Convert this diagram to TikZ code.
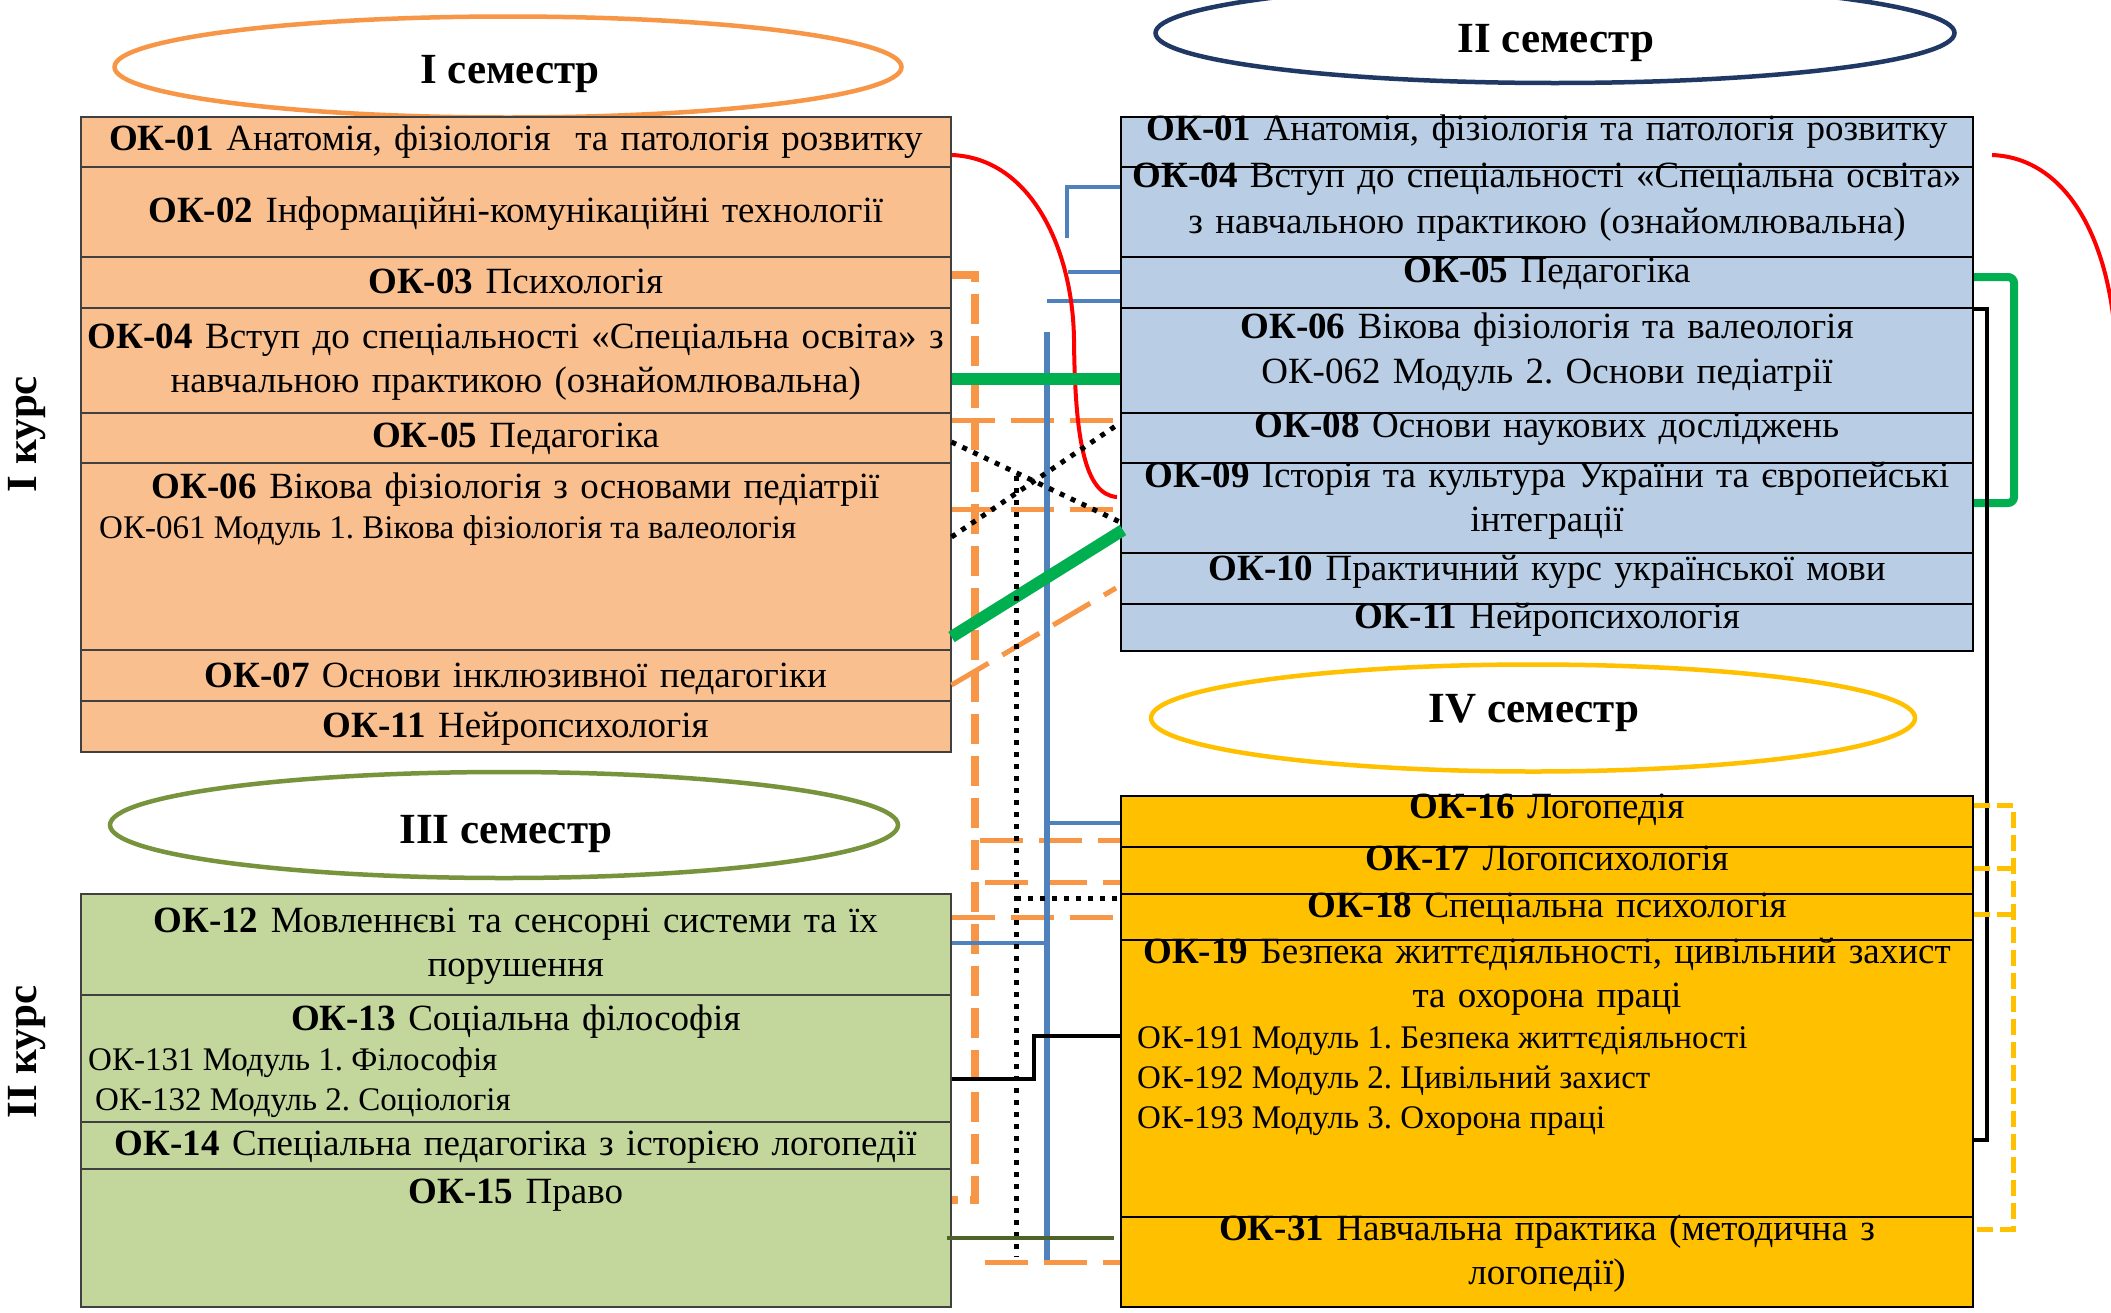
\documentclass[tikz,border=0pt]{standalone}
\usepackage{fontspec}
\setmainfont{Liberation Serif}
\usetikzlibrary{shapes.geometric,calc}
\definecolor{peach}{HTML}{FABF8F}
\definecolor{lblue}{HTML}{B9CDE5}
\definecolor{lgreen}{HTML}{C3D69B}
\definecolor{gold}{HTML}{FFC000}
\definecolor{orng}{HTML}{F79646}
\definecolor{bblue}{HTML}{4F81BD}
\definecolor{ggreen}{HTML}{00B050}
\definecolor{olive}{HTML}{77933C}
\definecolor{navy}{HTML}{1F3864}
\definecolor{dgreen}{HTML}{4F6228}
\newcommand\mainsz{\fontsize{37}{44}\selectfont}
\newcommand\subsz{\fontsize{33}{40}\selectfont}
\newcommand\titlesz{\fontsize{43}{48}\selectfont}
\frenchspacing
\begin{document}
\frenchspacing
\begin{tikzpicture}[x=1pt,y=-1pt,
  cellbox/.style={anchor=north west, inner sep=0pt, line width=1.5pt},
  lbox/.style={cellbox, fill=peach, draw=black!75, minimum width=870pt},
  gbox/.style={cellbox, fill=lgreen, draw=black!75, minimum width=870pt},
  bbox/.style={cellbox, fill=lblue, draw=black, line width=2pt, minimum width=852pt},
  ybox/.style={cellbox, fill=gold, draw=black, line width=2pt, minimum width=852pt},
  txt/.style={anchor=base, inner sep=0pt, align=center, text width=1000pt, font=\mainsz},
  subtxt/.style={anchor=base west, inner sep=0pt, font=\subsz},
  semell/.style={ellipse, line width=4.5pt, inner sep=0pt},
  semtxt/.style={anchor=base, inner sep=0pt, font=\titlesz\bfseries},
  kurs/.style={rotate=90, inner sep=0pt, font=\titlesz\bfseries},
  redl/.style={draw=red, line width=4pt},
  grn/.style={draw=ggreen, line width=12pt},
  grnb/.style={draw=ggreen, line width=8pt, rounded corners=6pt},
  blu/.style={draw=bblue, line width=4pt},
  bluthick/.style={draw=bblue, line width=6pt},
  odash/.style={draw=orng, line width=5pt, dash pattern=on 43pt off 16pt},
  odashv/.style={draw=orng, line width=8pt, dash pattern=on 30pt off 12pt},
  dotline/.style={draw=black, line width=5pt, dash pattern=on 5pt off 7pt},
  blk/.style={draw=black, line width=4pt},
  ydash/.style={draw=gold, line width=5pt, dash pattern=on 16pt off 7pt},
  dgr/.style={draw=dgreen, line width=4pt}
]
\useasboundingbox (0,0) rectangle (2111,1312);
\fill[white] (0,0) rectangle (2111,1312);

% ---------- ellipses ----------
\node[semell, draw=orng, minimum width=787pt, minimum height=101pt] (S1) at (508,67) {};
\node[semtxt] (S1t) at (510,83) {I семестр};
\node[semell, draw=navy, minimum width=799pt, minimum height=100pt] (S2) at (1555,33) {};
\node[semtxt] (S2t) at (1556,52) {II семестр};
\node[semell, draw=olive, minimum width=788pt, minimum height=106pt] (S3) at (504,825) {};
\node[semtxt] (S3t) at (506,843) {III семестр};
\node[semell, draw=gold, minimum width=764pt, minimum height=107pt] (S4) at (1533,718) {};
\node[semtxt] (S4t) at (1534,722) {IV семестр};

% ---------- course labels ----------
\node[kurs] (K1) at (27,434) {I курс};
\node[kurs] (K2) at (27,1052) {II курс};

% ---------- left column, I semester ----------
\node[lbox, minimum height=50pt] (L01) at (80,116) {};
\node[lbox, minimum height=90pt] (L02) at (80,166) {};
\node[lbox, minimum height=51pt] (L03) at (80,256) {};
\node[lbox, minimum height=105pt] (L04) at (80,307) {};
\node[lbox, minimum height=50pt] (L05) at (80,412) {};
\node[lbox, minimum height=187pt] (L06) at (80,462) {};
\node[lbox, minimum height=51pt] (L07) at (80,649) {};
\node[lbox, minimum height=51pt] (L11) at (80,700) {};
\node[txt] (L01t) at ($(L01.north)+(0,34)$) {\textbf{ОК-01} Анатомія, фізіологія \ та патологія розвитку};
\node[txt] (L02t) at ($(L02.north)+(0,56)$) {\textbf{ОК-02} Інформаційні-комунікаційні технології};
\node[txt] (L03t) at ($(L03.north)+(0,37)$) {\textbf{ОК-03} Психологія};
\node[txt] (L04t) at ($(L04.north)+(0,41)$) {\textbf{ОК-04} Вступ до спеціальності «Спеціальна освіта» з\\навчальною практикою (ознайомлювальна)};
\node[txt] (L05t) at ($(L05.north)+(0,35)$) {\textbf{ОК-05} Педагогіка};
\node[txt] (L06t) at ($(L06.north)+(0,36)$) {\textbf{ОК-06} Вікова фізіологія з основами педіатрії};
\node[subtxt] (L06s) at ($(L06.north west)+(19,76)$) {ОК-061 Модуль 1. Вікова фізіологія та валеологія};
\node[txt] (L07t) at ($(L07.north)+(0,38)$) {\textbf{ОК-07} Основи інклюзивної педагогіки};
\node[txt] (L11t) at ($(L11.north)+(0,37)$) {\textbf{ОК-11} Нейропсихологія};

% ---------- left column, III semester ----------
\node[gbox, minimum height=101pt] (G12) at (80,893) {};
\node[gbox, minimum height=127pt] (G13) at (80,994) {};
\node[gbox, minimum height=47pt] (G14) at (80,1121) {};
\node[gbox, minimum height=138pt] (G15) at (80,1168) {};
\node[txt] (G12t) at ($(G12.north)+(0,39)$) {\textbf{ОК-12} Мовленнєві та сенсорні системи та їх\\порушення};
\node[txt] (G13t) at ($(G13.north)+(0,36)$) {\textbf{ОК-13} Соціальна філософія};
\node[subtxt] (G13s1) at ($(G13.north west)+(8,76)$) {ОК-131 Модуль 1. Філософія};
\node[subtxt] (G13s2) at ($(G13.north west)+(15,116)$) {ОК-132 Модуль 2. Соціологія};
\node[txt] (G14t) at ($(G14.north)+(0,34)$) {\textbf{ОК-14} Спеціальна педагогіка з історією логопедії};
\node[txt] (G15t) at ($(G15.north)+(0,35)$) {\textbf{ОК-15} Право};

% ---------- right column, II semester ----------
\node[bbox, minimum height=50pt] (B01) at (1120,116) {};
\node[bbox, minimum height=90pt] (B04) at (1120,166) {};
\node[bbox, minimum height=51pt] (B05) at (1120,256) {};
\node[bbox, minimum height=105pt] (B06) at (1120,307) {};
\node[bbox, minimum height=50pt] (B08) at (1120,412) {};
\node[bbox, minimum height=90pt] (B09) at (1120,462) {};
\node[bbox, minimum height=51pt] (B10) at (1120,552) {};
\node[bbox, minimum height=47pt] (B11) at (1120,603) {};
\node[txt] (B01t) at ($(B01.north)+(0,24)$) {\textbf{ОК-01} Анатомія, фізіологія та патологія розвитку};
\node[txt] (B04t) at ($(B04.north)+(0,21)$) {\textbf{ОК-04} Вступ до спеціальності «Спеціальна освіта»\\[2pt]з навчальною практикою (ознайомлювальна)};
\node[txt] (B05t) at ($(B05.north)+(0,26)$) {\textbf{ОК-05} Педагогіка};
\node[txt] (B06t) at ($(B06.north)+(0,31)$) {\textbf{ОК-06} Вікова фізіологія та валеологія\\[1pt]ОК-062 Модуль 2. Основи педіатрії};
\node[txt] (B08t) at ($(B08.north)+(0,25)$) {\textbf{ОК-08} Основи наукових досліджень};
\node[txt] (B09t) at ($(B09.north)+(0,25)$) {\textbf{ОК-09} Історія та культура України та європейські\\інтеграції};
\node[txt] (B10t) at ($(B10.north)+(0,28)$) {\textbf{ОК-10} Практичний курс української мови};
\node[txt] (B11t) at ($(B11.north)+(0,25)$) {\textbf{ОК-11} Нейропсихологія};

% ---------- right column, IV semester ----------
\node[ybox, minimum height=51pt] (Y16) at (1120,795) {};
\node[ybox, minimum height=47pt] (Y17) at (1120,846) {};
\node[ybox, minimum height=46pt] (Y18) at (1120,893) {};
\node[ybox, minimum height=277pt] (Y19) at (1120,939) {};
\node[ybox, minimum height=90pt] (Y31) at (1120,1216) {};
\node[txt] (Y16t) at ($(Y16.north)+(0,23)$) {\textbf{ОК-16} Логопедія};
\node[txt] (Y17t) at ($(Y17.north)+(0,24)$) {\textbf{ОК-17} Логопсихологія};
\node[txt] (Y18t) at ($(Y18.north)+(0,24)$) {\textbf{ОК-18} Спеціальна психологія};
\node[txt] (Y19t) at ($(Y19.north)+(0,24)$) {\textbf{ОК-19} Безпека життєдіяльності, цивільний захист\\та охорона праці};
\node[subtxt] (Y19s1) at ($(Y19.north west)+(17,109)$) {ОК-191 Модуль 1. Безпека життєдіяльності};
\node[subtxt] (Y19s2) at ($(Y19.north west)+(17,149)$) {ОК-192 Модуль 2. Цивільний захист};
\node[subtxt] (Y19s3) at ($(Y19.north west)+(17,189)$) {ОК-193 Модуль 3. Охорона праці};
\node[txt] (Y31t) at ($(Y31.north)+(0,24)$) {\textbf{ОК-31} Навчальна практика (методична з\\логопедії)};

% ---------- connectors ----------
% orange dashed
\coordinate (oTop) at (975,275);
\coordinate (oBot) at (975,1200);
\draw[odashv, line join=miter] ($(L03.north east)+(0,19)$) -- (oTop) -- (oBot) -- ($(G15.north east)+(0,32)$);
\draw[odash] ($(L05.north east)+(0,8)$) -- ($(B08.north west)+(0,8)$);
\draw[odash] ($(L06.north east)+(0,47)$) -- ($(B09.north west)+(0,47)$);
\path ($(Y16.north west)+(0,45)$) coordinate (y16in)
      ($(Y17.north west)+(0,36)$) coordinate (y17in)
      ($(Y31.north west)+(0,46)$) coordinate (y31in);
\draw[odash] ($(oTop |- y16in)+(5,0)$) -- (y16in);
\draw[odash] ($(oTop |- y17in)+(10,0)$) -- (y17in);
\draw[odash] ($(G12.north east)+(0,24)$) -- ($(Y18.north west)+(0,24)$);
\draw[odash] ($(oTop |- y31in)+(10,0)$) -- (y31in);
\draw[odash] ($(L07.north east)+(0,36)$) -- ($(B10.north west)+(-4,36)$);

% blue
\coordinate (bA) at (1067,238);
\draw[blu] ($(B04.north west)+(0,21)$) -| (bA);
\coordinate (bB) at (1068,272);
\draw[blu] ($(B05.north west)+(0,16)$) -- (bB);
\coordinate (bTop) at (1047,332);
\coordinate (bBot) at (1047,1260);
\path ($(B05.north west)+(0,45)$) coordinate (b05in);
\draw[blu] (b05in) -- (bTop |- b05in);
\draw[bluthick] (bTop) -- (bBot);
\path ($(Y16.north west)+(0,28)$) coordinate (y16b);
\draw[blu] (bTop |- y16b) -- (y16b);
\path ($(G12.north east)+(0,50)$) coordinate (g12b);
\draw[blu] (g12b) -- (bTop |- g12b);

% red
\coordinate (rMid) at (1074,340);
\draw[redl] ($(L01.north east)+(0,39)$) .. controls +(80,3) and +(-1,-90) .. (rMid)
  .. controls +(1,100) and +(-32,-2) .. ($(B09.north west)+(-3,35)$);
\coordinate (rEnd) at (2116,350);
\draw[redl] ($(B01.north east)+(18,39)$) .. controls +(75,3) and +(-5,-110) .. (rEnd);

% green
\draw[grn] ($(L04.north east)+(0,72)$) -- ($(B06.north west)+(0,72)$);
\draw[grn] ($(L06.north east)+(0,175)$) -- ($(B09.north west)+(3,68)$);
\draw[grnb] ($(B05.north east)+(0,21)$) -- ++(40,0) |- ($(B09.north east)+(0,41)$);

% black bracket
\draw[blk] ($(B06.north east)+(0,2)$) -- ++(13,0) |- ($(Y19.north east)+(0,201)$);

% yellow dashed bracket
\draw[ydash] ($(Y16.north east)+(0,10)$) -- ++(39,0) |- ($(Y31.north east)+(0,13)$);
\path ($(Y16.north east)+(39,0)$) coordinate (yv)
      ($(Y17.north east)+(0,22)$) coordinate (y17e)
      ($(Y18.north east)+(0,21)$) coordinate (y18e);
\draw[ydash] (y17e) -- (yv |- y17e);
\draw[ydash] (y18e) -- (yv |- y18e);

% black dotted
\draw[dotline] ($(L05.north east)+(0,30)$) -- ($(B09.north west)+(0,60)$);
\draw[dotline] ($(L06.north east)+(0,75)$) -- ($(B08.north west)+(0,11)$);
\coordinate (dTop) at (1016,476);
\coordinate (dBot) at (1016,1257);
\draw[dotline] (dTop) -- (dBot);
\path ($(Y18.north west)+(0,5)$) coordinate (y18d);
\draw[dotline] (dTop |- y18d) -- (y18d);

% black step
\path ($(G13.north east)+(0,85)$) coordinate (g13s)
      ($(Y19.north west)+(0,97)$) coordinate (y19s);
\draw[blk] (g13s) -- ++(82,0) |- (y19s);

% dark green
\draw[dgr] ($(G15.north east)+(-5,70)$) -- ($(Y31.north west)+(-6,22)$);
\end{tikzpicture}
\end{document}
